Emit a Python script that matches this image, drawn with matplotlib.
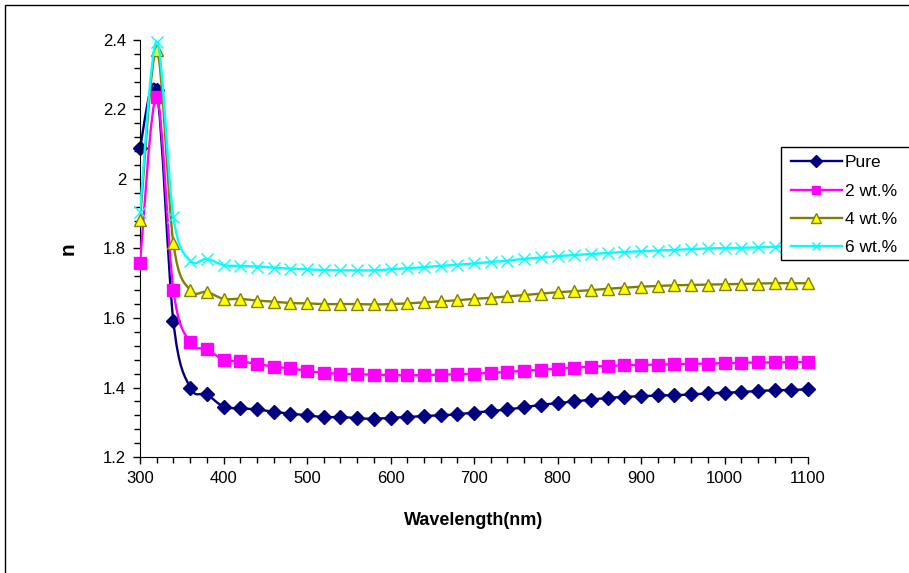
import matplotlib.pyplot as plt
from matplotlib.path import Path
from matplotlib.patches import PathPatch, Rectangle
from matplotlib.lines import Line2D
from matplotlib.ticker import MultipleLocator
import numpy as np

plt.rcParams['font.family'] = ['Liberation Sans', 'DejaVu Sans']

wavelength = list(range(300, 1101, 20))

pure = [2.09, 2.255, 1.59, 1.40, 1.38, 1.345, 1.34, 1.337, 1.33, 1.325,
        1.32, 1.315, 1.315, 1.312, 1.31, 1.313, 1.315, 1.318, 1.32, 1.323,
        1.328, 1.332, 1.337, 1.343, 1.35, 1.355, 1.36, 1.365, 1.37, 1.373,
        1.375, 1.377, 1.378, 1.38, 1.383, 1.385, 1.387, 1.39, 1.392, 1.393, 1.395]

wt2 = [1.757, 2.235, 1.68, 1.53, 1.51, 1.48, 1.475, 1.468, 1.46, 1.455,
       1.448, 1.442, 1.44, 1.438, 1.437, 1.436, 1.435, 1.436, 1.437, 1.438,
       1.44, 1.442, 1.445, 1.448, 1.451, 1.454, 1.457, 1.46, 1.462, 1.464,
       1.465, 1.466, 1.467, 1.468, 1.469, 1.47, 1.471, 1.472, 1.472, 1.473, 1.473]

wt4 = [1.882, 2.37, 1.815, 1.68, 1.675, 1.655, 1.655, 1.65, 1.647, 1.643,
       1.642, 1.64, 1.64, 1.64, 1.639, 1.64, 1.642, 1.645, 1.648, 1.651,
       1.655, 1.658, 1.662, 1.666, 1.67, 1.674, 1.677, 1.68, 1.684, 1.687,
       1.69, 1.692, 1.694, 1.695, 1.696, 1.697, 1.698, 1.699, 1.7, 1.7, 1.70]

wt6 = [1.905, 2.395, 1.89, 1.765, 1.77, 1.752, 1.75, 1.748, 1.745, 1.742,
       1.74, 1.738, 1.737, 1.737, 1.737, 1.74, 1.743, 1.746, 1.75, 1.753,
       1.757, 1.761, 1.765, 1.77, 1.774, 1.778, 1.781, 1.784, 1.787, 1.79,
       1.792, 1.794, 1.796, 1.798, 1.8, 1.801, 1.802, 1.803, 1.805, 1.806, 1.808]

labels = ['Pure', '2 wt.%', '4 wt.%', '6 wt.%']


def smooth_path(xs, ys):
    # Excel-like smoothed line: bezier segments through the data points
    p = np.column_stack([xs, ys]).astype(float)
    n = len(p)
    verts = [p[0]]
    codes = [Path.MOVETO]
    for i in range(n - 1):
        p0 = p[i - 1] if i > 0 else p[i]
        p3 = p[i + 2] if i + 2 < n else p[i + 1]
        c1 = p[i] + (p[i + 1] - p0) / 6.0
        c2 = p[i + 1] - (p3 - p[i]) / 6.0
        verts += [c1, c2, p[i + 1]]
        codes += [Path.CURVE4] * 3
    return Path(verts, codes)


fig = plt.figure(figsize=(9.09, 5.73), dpi=100)
ax = fig.add_axes([0.154, 0.2024, 0.735, 0.728])

series = [
    (pure, '#000080', '#000080', '#000080', 'D', 7.5),
    (wt2, '#FF00FF', '#FF00FF', '#FF00FF', 's', 8),
    (wt4, '#808000', '#FFFF00', '#808000', '^', 9),
    (wt6, '#00FFFF', '#00FFFF', '#00FFFF', 'x', 8.5),
]

handles = []
for k, (vals, lc, fc, ec, mk, ms) in enumerate(series):
    patch = PathPatch(smooth_path(wavelength, vals), facecolor='none', edgecolor=lc,
                      lw=1.7, zorder=2 + k, clip_on=True)
    ax.add_patch(patch)
    ax.plot(wavelength, vals, linestyle='none', marker=mk, markersize=ms,
            markerfacecolor=fc, markeredgecolor=ec, markeredgewidth=1.0,
            zorder=2 + k, clip_on=False)
    handles.append(Line2D([], [], color=lc, lw=1.7, marker=mk, markersize=ms * 0.75,
                          markerfacecolor=fc, markeredgecolor=ec))

ax.set_xlim(300, 1100)
ax.set_ylim(1.2, 2.4)
ax.xaxis.set_major_locator(MultipleLocator(100))
ax.xaxis.set_minor_locator(MultipleLocator(20))
ax.yaxis.set_minor_locator(MultipleLocator(0.04))
ax.set_yticks([1.2, 1.4, 1.6, 1.8, 2.0, 2.2, 2.4])
ax.set_yticklabels(['1.2', '1.4', '1.6', '1.8', '2', '2.2', '2.4'])

ax.spines['top'].set_visible(False)
ax.spines['right'].set_visible(False)
ax.tick_params(axis='both', which='major', direction='out', length=5, width=1,
               labelsize=12, pad=5)
ax.tick_params(axis='both', which='minor', direction='out', length=4, width=1)

ax.set_xlabel('Wavelength(nm)', fontsize=13, fontweight='bold', labelpad=19)
ax.set_ylabel('n', fontsize=15, fontweight='bold', labelpad=18)

# legend box (runs off the right edge of the picture)
fig.patches.append(Rectangle((781 / 909, 1 - 260 / 573), 0.2, 113 / 573,
                             transform=fig.transFigure, facecolor='white',
                             edgecolor='black', lw=1.0, zorder=10))
leg = fig.legend(handles, labels, loc='upper left', bbox_to_anchor=(786 / 909, 1 - 150 / 573),
                 frameon=False, fontsize=12.5, handlelength=2.9,
                 handletextpad=0.2, borderpad=0.3, labelspacing=0.76,
                 borderaxespad=0)
leg.set_zorder(11)

# outer chart-area border (runs off the right and bottom edges)
fig.patches.append(Rectangle((5 / 909, -0.1), 1.2, 1 - 5 / 573 + 0.1,
                             transform=fig.transFigure, fill=False,
                             edgecolor='black', lw=1.0))

fig.savefig('out.png', dpi=100)
